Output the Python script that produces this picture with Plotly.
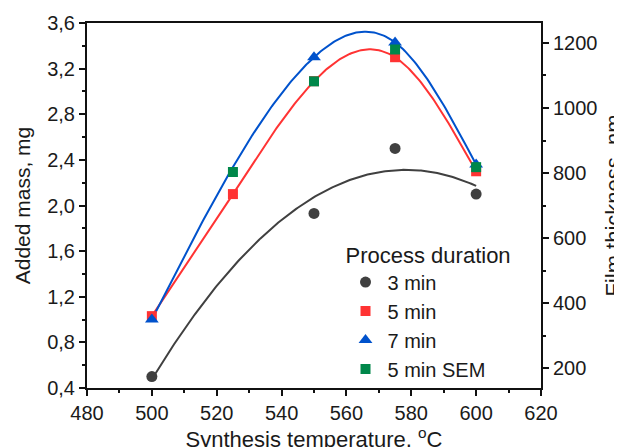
import numpy as np
import plotly.graph_objects as go

# Data
temp_3 = [500, 550, 575, 600]
mass_3 = [0.50, 1.93, 2.50, 2.10]
temp_5 = [500, 525, 550, 575, 600]
mass_5 = [1.03, 2.10, 3.09, 3.30, 2.30]
temp_7 = [500, 550, 575, 600]
mass_7 = [1.00, 3.30, 3.43, 2.36]
temp_sem = [525, 550, 575, 600]
thick_sem = [803, 1082, 1180, 818]


def natural_spline(x, y, xs):
    x = np.asarray(x, float); y = np.asarray(y, float)
    n = len(x); h = np.diff(x)
    A = np.zeros((n, n)); b = np.zeros(n)
    A[0, 0] = 1; A[-1, -1] = 1
    for i in range(1, n - 1):
        A[i, i - 1] = h[i - 1]; A[i, i] = 2 * (h[i - 1] + h[i]); A[i, i + 1] = h[i]
        b[i] = 6 * ((y[i + 1] - y[i]) / h[i] - (y[i] - y[i - 1]) / h[i - 1])
    M = np.linalg.solve(A, b)
    out = []
    for t in xs:
        i = min(max(np.searchsorted(x, t) - 1, 0), n - 2)
        dx1 = x[i + 1] - t; dx0 = t - x[i]
        v = (M[i] * dx1 ** 3 + M[i + 1] * dx0 ** 3) / (6 * h[i]) \
            + (y[i] / h[i] - M[i] * h[i] / 6) * dx1 + (y[i + 1] / h[i] - M[i + 1] * h[i] / 6) * dx0
        out.append(v)
    return np.array(out)

xs = np.linspace(500, 600, 201)
fit3 = np.polyval(np.polyfit(temp_3, mass_3, 2), xs)
sp5 = natural_spline(temp_5, mass_5, xs)
sp7 = natural_spline(temp_7, mass_7, xs)

C_BLACK = '#404040'; C_RED = '#FF3333'; C_BLUE = '#0052CC'; C_GREEN = '#00874A'

fig = go.Figure()
fig.add_trace(go.Scatter(x=xs, y=fit3, mode='lines', line=dict(color=C_BLACK, width=2), showlegend=False, hoverinfo='skip'))
fig.add_trace(go.Scatter(x=xs, y=sp5, mode='lines', line=dict(color=C_RED, width=2), showlegend=False, hoverinfo='skip'))
fig.add_trace(go.Scatter(x=xs, y=sp7, mode='lines', line=dict(color=C_BLUE, width=2), showlegend=False, hoverinfo='skip'))
fig.add_trace(go.Scatter(x=temp_3, y=mass_3, mode='markers', name='3 min',
                         marker=dict(symbol='circle', size=11, color=C_BLACK)))
fig.add_trace(go.Scatter(x=temp_5, y=mass_5, mode='markers', name='5 min',
                         marker=dict(symbol='square', size=10, color=C_RED)))
fig.add_trace(go.Scatter(x=temp_7, y=mass_7, mode='markers', name='7 min',
                         marker=dict(symbol='triangle-up', size=12, color=C_BLUE)))
fig.add_trace(go.Scatter(x=temp_sem, y=thick_sem, mode='markers', name='5 min SEM', yaxis='y2',
                         marker=dict(symbol='square', size=10, color=C_GREEN)))

axis_common = dict(showline=True, linecolor='#111', linewidth=2, ticks='outside', ticklen=6,
                   tickwidth=1.5, tickcolor='#111', showgrid=False, zeroline=False,
                   automargin=False, tickfont=dict(size=20, color='#1a1a1a'))

fig.update_layout(
    width=622, height=447,
    margin=dict(l=79, r=89, t=15, b=67),
    paper_bgcolor='white', plot_bgcolor='white',
    font=dict(family='Liberation Sans, Arial, sans-serif', color='#1a1a1a'),
    separators=',.',
    xaxis=dict(range=[480, 620], dtick=20, tick0=480, mirror=True,
               minor=dict(dtick=10, ticks='outside', ticklen=3, tickcolor='#111'),
               title=dict(text='Synthesis temperature, <sup>o</sup>C', font=dict(size=22), standoff=1),
               **axis_common),
    yaxis=dict(range=[0.4, 3.6], dtick=0.4, tick0=0.4, tickformat='.1f',
               minor=dict(dtick=0.2, ticks='outside', ticklen=3, tickcolor='#111'),
               title=dict(text='Added mass, mg', font=dict(size=21), standoff=11),
               **axis_common),
    yaxis2=dict(range=[138.5, 1261.5], dtick=200, tick0=200, overlaying='y', side='right',
                minor=dict(dtick=100, ticks='outside', ticklen=3, tickcolor='#111'),
                title=dict(text='Film thickness, nm', font=dict(size=22), standoff=9),
                **axis_common),
    legend=dict(x=0.565, y=0.422, xanchor='left', yanchor='top', bgcolor='rgba(0,0,0,0)',
                font=dict(size=20), title=dict(text='Process duration', font=dict(size=22)),
                itemsizing='trace', itemwidth=34),
)

fig.write_html('out.html')
